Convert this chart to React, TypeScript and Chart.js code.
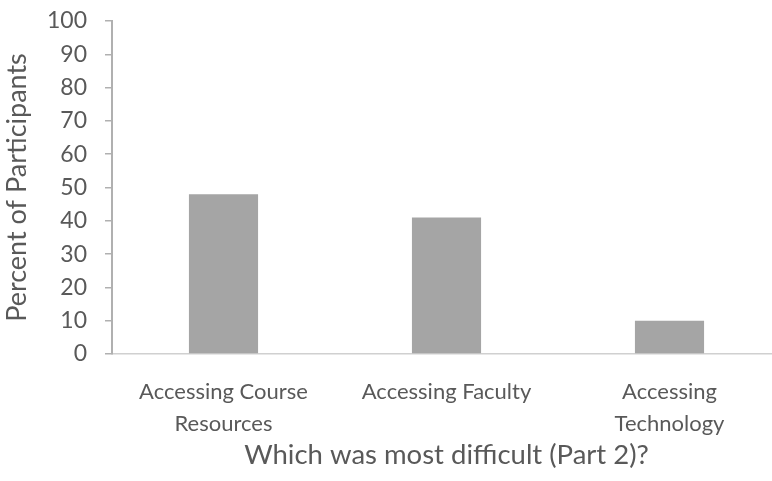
import React, { useEffect, useRef } from "react";
import { Chart, registerables } from "chart.js";

Chart.register(...registerables);

// Survey results: which area participants found most difficult (part 2)
const categories: (string | string[])[] = [
  ["Accessing Course", "Resources"],
  "Accessing Faculty",
  ["Accessing", "Technology"],
];
const percentValues: number[] = [48, 41, 10];
const yTicks = { min: 0, max: 100, step: 10 };
const xAxisTitle = "Which was most difficult (Part 2)?";
const yAxisTitle = "Percent of Participants";

const TEXT = "#595959";
const FONT = "Lato, 'Open Sans', sans-serif";

export default function App() {
  const canvasRef = useRef<HTMLCanvasElement | null>(null);

  useEffect(() => {
    const canvas = canvasRef.current;
    if (!canvas) return;
    const chart = new Chart(canvas, {
      type: "bar",
      data: {
        labels: categories,
        datasets: [
          {
            data: percentValues,
            backgroundColor: "#a5a5a5",
            borderWidth: 0,
            barPercentage: 1,
            categoryPercentage: 0.31,
          },
        ],
      },
      options: {
        animation: false,
        responsive: false,
        devicePixelRatio: 1,
        layout: { padding: { top: 21, right: 19, left: 0, bottom: 0 } },
        plugins: {
          legend: { display: false },
          tooltip: { enabled: false },
        },
        scales: {
          x: {
            afterFit: (scale: any) => {
              scale.height = 127;
            },
            grid: { display: false },
            border: { display: true, color: "#d0d0d0", width: 1.5 },
            ticks: {
              color: TEXT,
              padding: 14,
              maxRotation: 0,
              autoSkip: false,
              font: { family: FONT, size: 22, lineHeight: 1.45 },
            },
            title: {
              display: true,
              text: xAxisTitle,
              color: TEXT,
              font: { family: FONT, size: 27.5, lineHeight: 1.2 },
              padding: { top: 0, bottom: 9 },
            },
          },
          y: {
            min: yTicks.min,
            max: yTicks.max,
            afterFit: (scale: any) => {
              scale.width = 112;
              // keep the plot top fixed by the layout padding alone
              scale.paddingTop = 0;
              scale.paddingBottom = 0;
            },
            grid: {
              display: true,
              drawOnChartArea: false,
              drawTicks: true,
              tickLength: 7,
              color: "#b0b0b0",
              lineWidth: 1.5,
            },
            border: { display: true, color: "#b0b0b0", width: 2 },
            ticks: {
              stepSize: yTicks.step,
              color: TEXT,
              padding: 18,
              font: { family: FONT, size: 23 },
            },
            title: {
              display: true,
              text: yAxisTitle,
              color: TEXT,
              font: { family: FONT, size: 27, lineHeight: 1.2 },
              padding: { top: 1, bottom: 0 },
            },
          },
        },
      },
    });
    return () => chart.destroy();
  }, []);

  return (
    <div
      style={{
        position: "fixed",
        left: 0,
        top: 0,
        width: 772,
        height: 481,
        overflow: "hidden",
        background: "#ffffff",
      }}
    >
      <canvas
        ref={canvasRef}
        width={800}
        height={481}
        style={{ width: 800, height: 481, display: "block" }}
      />
    </div>
  );
}
